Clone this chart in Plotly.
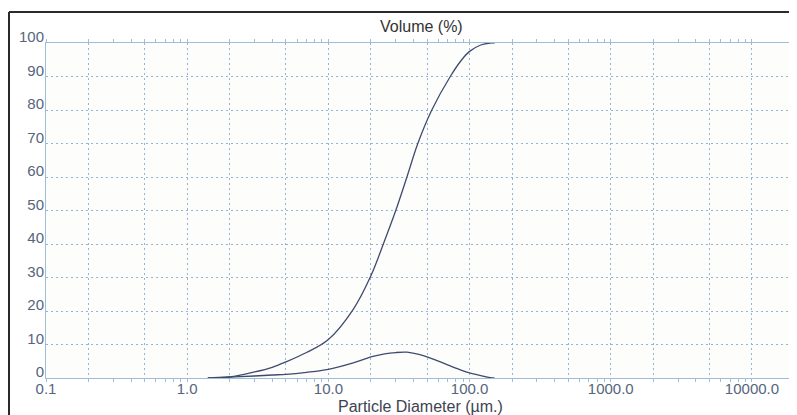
import plotly.graph_objects as go

# ---- data ----
size_um = [1.4, 2, 3, 4, 5, 7, 10, 15, 20, 25, 30, 36, 43, 54, 73, 88, 100, 120, 140, 150]
cumulative_pct = [0, 0.3, 1.8, 3.2, 4.8, 7.6, 11.5, 20.5, 30.5, 41.0, 50.0, 60.0, 70.0, 80.0,
                  90.0, 95.0, 97.5, 99.4, 100, 100]
volume_pct = [0, 0.3, 0.6, 0.9, 1.1, 1.7, 2.6, 4.5, 6.3, 7.2, 7.6, 7.7, 7.1, 5.8,
              3.6, 2.3, 1.5, 0.7, 0.1, 0]

x_tick_vals = [0.1, 0.2, 0.5, 1, 2, 5, 10, 20, 50, 100, 200, 500, 1000, 2000, 5000, 10000]
x_tick_text = ["0.1", "", "", "1.0", "", "", "10.0", "", "", "100.0", "", "",
               "1000.0", "", "", "10000.0"]
x_minor_vals = [k * 10 ** e for e in range(-1, 5) for k in range(2, 10)]
y_tick_vals = [0, 10, 20, 30, 40, 50, 60, 70, 80, 90, 100]

# The page body has an 8px default margin, so the figure is drawn 8px in from
# the window's top-left corner; size it to fill the rest of the 797x415 window.
OFF = 8
W, H = 797 - OFF, 415 - OFF
# target plot area in window pixels: x 46..797, y 43..378
ML, MR, MT = 46 - OFF, 0, 43 - OFF
MB = H - (378 - OFF)
plot_w = W - ML - MR
plot_h = H - MT - MB

def px_to_paper_x(px):
    return (px - OFF - ML) / plot_w

def px_to_paper_y(py):
    return (H - MB - (py - OFF)) / plot_h

curve_color = "#3f4b6e"
grid_color = "#93b6d8"
axis_color = "#9fbcd8"
tick_font = dict(family="Liberation Sans, Arial, sans-serif", size=15, color="#55657c")

fig = go.Figure()
fig.add_trace(go.Scatter(x=size_um, y=cumulative_pct, mode="lines",
                         line=dict(color=curve_color, width=1.3, shape="spline", smoothing=1.0),
                         hoverinfo="skip", showlegend=False))
fig.add_trace(go.Scatter(x=size_um, y=volume_pct, mode="lines",
                         line=dict(color=curve_color, width=1.3, shape="spline", smoothing=1.0),
                         hoverinfo="skip", showlegend=False))

fig.update_layout(
    width=W, height=H,
    margin=dict(l=ML, r=MR, t=MT, b=MB, pad=0, autoexpand=False),
    paper_bgcolor="#ffffff",
    plot_bgcolor="#fdfdfc",
    showlegend=False,
    xaxis=dict(
        type="log", range=[-1, 4.319], automargin=False,
        tickvals=x_tick_vals, ticktext=x_tick_text,
        showgrid=True, gridcolor=grid_color, griddash="2px,3px", gridwidth=1,
        showline=True, linecolor=axis_color, linewidth=1, mirror="ticks",
        ticks="outside", ticklen=3, tickcolor=axis_color,
        minor=dict(tickvals=x_minor_vals, ticks="outside", ticklen=3,
                   tickcolor=axis_color, showgrid=False),
        tickfont=tick_font, zeroline=False, ticklabelstandoff=-6,
    ),
    yaxis=dict(
        range=[0, 100], tickvals=y_tick_vals, automargin=False,
        showgrid=True, gridcolor=grid_color, griddash="2px,3px", gridwidth=1,
        showline=True, linecolor=axis_color, linewidth=1,
        ticks="", tickfont=tick_font, zeroline=False,
        ticklabelshift=-6, ticklabelstandoff=-2,
    ),
)

title_font = dict(family="Liberation Sans, Arial, sans-serif", size=16, color="#333333")
fig.add_annotation(text="Volume (%)", xref="paper", yref="paper",
                   x=px_to_paper_x(421), y=px_to_paper_y(26), xanchor="center", yanchor="middle",
                   showarrow=False, font=title_font)
fig.add_annotation(text="Particle Diameter (µm.)", xref="paper", yref="paper",
                   x=px_to_paper_x(420), y=px_to_paper_y(406), xanchor="center", yanchor="middle",
                   showarrow=False,
                   font=dict(family="Liberation Sans, Arial, sans-serif", size=16, color="#3d4451"))

# outer frame (left and top edges visible in the crop)
frame = dict(color="#2a2a2a", width=2)
fig.add_shape(type="line", xref="paper", yref="paper",
              x0=px_to_paper_x(9), x1=px_to_paper_x(800), y0=px_to_paper_y(12), y1=px_to_paper_y(12),
              line=frame)
fig.add_shape(type="line", xref="paper", yref="paper",
              x0=px_to_paper_x(9), x1=px_to_paper_x(9), y0=px_to_paper_y(12), y1=px_to_paper_y(420),
              line=frame)

fig.write_html("out.html")
